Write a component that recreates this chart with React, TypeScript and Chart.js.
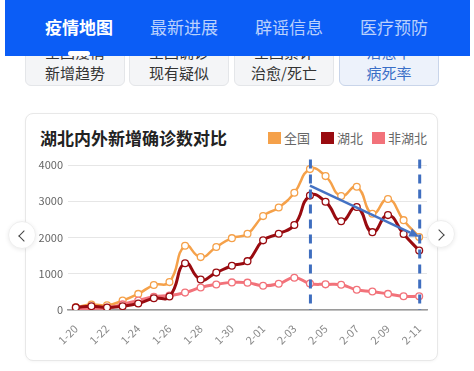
import React, { useEffect, useRef } from 'react';
import { Chart, registerables } from 'chart.js';

Chart.register(...registerables);

const dates = ['1-20','1-21','1-22','1-23','1-24','1-25','1-26','1-27','1-28','1-29','1-30','1-31','2-01','2-02','2-03','2-04','2-05','2-06','2-07','2-08','2-09','2-10','2-11'];
const national = [77,149,131,259,444,688,769,1771,1459,1737,1982,2102,2590,2829,3235,3887,3694,3143,3399,2656,3062,2478,2015];
const hubei = [72,105,69,105,180,323,371,1291,840,1032,1220,1347,1921,2103,2345,3156,2987,2447,2841,2147,2618,2097,1638];
const nonHubei = [5,44,62,154,264,365,398,480,619,705,762,755,669,726,890,731,707,696,558,509,444,381,377];
const yTicks = [0,1000,2000,3000,4000];
const markerDates = ['2-04','2-11'];
const trendFrom = { date: '2-04', value: 3430 };
const trendTo = { date: '2-11', value: 2020 };

const seriesNames = ['全国','湖北','非湖北'];
const seriesColors = ['#f5a14a','#990b10','#f2727a'];
const navTabs = ['疫情地图','最新进展','辟谣信息','医疗预防'];
const subTabsTop = ['全国疫情','全国确诊','全国累计','治愈率'];
const subTabsBottom = ['新增趋势','现有疑似','治愈/死亡','病死率'];
const chartTitle = '湖北内外新增确诊数对比';

const FONT = '"Noto Sans CJK SC", "Noto Sans", sans-serif';

const overlayPlugin = {
  id: 'overlay',
  afterDatasetsDraw(chart: any) {
    const { ctx, scales } = chart;
    const x = scales.x, y = scales.y;
    ctx.save();
    ctx.strokeStyle = '#3f6ebf';
    ctx.lineWidth = 3;
    ctx.setLineDash([9, 6]);
    markerDates.forEach((d) => {
      const px = x.getPixelForValue(dates.indexOf(d)) + 0.5;
      ctx.beginPath();
      ctx.moveTo(px, y.getPixelForValue(4150));
      ctx.lineTo(px, y.getPixelForValue(0));
      ctx.stroke();
    });
    ctx.setLineDash([]);
    const x1 = x.getPixelForValue(dates.indexOf(trendFrom.date));
    const y1 = y.getPixelForValue(trendFrom.value);
    const x2 = x.getPixelForValue(dates.indexOf(trendTo.date));
    const y2 = y.getPixelForValue(trendTo.value);
    const ang = Math.atan2(y2 - y1, x2 - x1);
    const headLen = 10, headW = 4.5;
    const bx = x2 - headLen * Math.cos(ang), by = y2 - headLen * Math.sin(ang);
    ctx.strokeStyle = '#4472c4';
    ctx.fillStyle = '#4472c4';
    ctx.lineWidth = 2.5;
    ctx.beginPath();
    ctx.moveTo(x1, y1);
    ctx.lineTo(bx, by);
    ctx.stroke();
    ctx.beginPath();
    ctx.moveTo(x2, y2);
    ctx.lineTo(bx + headW * Math.sin(ang), by - headW * Math.cos(ang));
    ctx.lineTo(bx - headW * Math.sin(ang), by + headW * Math.cos(ang));
    ctx.closePath();
    ctx.fill();
    ctx.restore();
  },
};

function ChartCanvas() {
  const ref = useRef<HTMLCanvasElement | null>(null);
  useEffect(() => {
    if (!ref.current) return;
    const ds = (label: string, data: number[], color: string, width: number, order: number) => ({
      label,
      data,
      borderColor: color,
      backgroundColor: color,
      borderWidth: width,
      tension: 0.5,
      pointRadius: 3.4,
      pointBackgroundColor: '#ffffff',
      pointBorderColor: color,
      pointBorderWidth: 1.3,
      order,
    });
    const chart = new Chart(ref.current, {
      type: 'line',
      data: {
        labels: dates,
        datasets: [
          ds(seriesNames[0], national, seriesColors[0], 2.5, 3),
          ds(seriesNames[2], nonHubei, seriesColors[2], 3, 2),
          ds(seriesNames[1], hubei, seriesColors[1], 3, 1),
        ],
      },
      options: {
        animation: false,
        responsive: false,
        maintainAspectRatio: false,
        layout: { padding: { top: 15, right: 11, left: 0, bottom: 0 } },
        plugins: { legend: { display: false }, tooltip: { enabled: false } },
        scales: {
          x: {
            offset: true,
            grid: { display: false },
            border: { display: true, color: '#9a9a9a', width: 1.5 },
            ticks: {
              autoSkip: false,
              maxRotation: 45,
              minRotation: 45,
              padding: 4,
              color: '#8a8a8a',
              font: { size: 11, family: FONT },
              callback: (_v: any, i: number) => (i % 2 === 0 ? dates[i] : ''),
            },
            afterFit: (s: any) => { s.height = 45; },
          },
          y: {
            min: yTicks[0],
            max: yTicks[yTicks.length - 1],
            afterBuildTicks: (s: any) => { s.ticks = yTicks.map((v) => ({ value: v })); },
            ticks: { color: '#666', font: { size: 11, family: FONT }, padding: 5, callback: (v: any) => String(v) },
            grid: { color: '#e6e6e6', drawTicks: false, lineWidth: 1 },
            border: { display: false },
            afterFit: (s: any) => { s.width = 43; },
          },
        },
      } as any,
      plugins: [overlayPlugin],
    });
    return () => chart.destroy();
  }, []);
  return (
    <canvas
      ref={ref}
      width={413}
      height={205}
      style={{ position: 'absolute', left: 25, top: 150, width: 413, height: 205, display: 'block' }}
    />
  );
}

export default function App() {
  const tabLefts = [45, 150, 255, 360];
  const btnLefts = [25, 129, 234, 339];
  return (
    <div style={{ position: 'absolute', left: 0, top: 0, width: 474, height: 371, background: '#fff', overflow: 'hidden', fontFamily: FONT }}>
      {btnLefts.map((l, i) => {
        const active = i === 3;
        return (
          <div key={i} style={{
            position: 'absolute', left: l, top: 30, width: 100, height: 56, boxSizing: 'border-box',
            background: active ? '#edf2fb' : '#f4f5f7',
            border: `1px solid ${active ? '#c9d5ea' : '#e4e6e9'}`, borderRadius: 6,
            color: active ? '#3a6fc7' : '#333', fontSize: 15, textAlign: 'center',
          }}>
            <div style={{ position: 'absolute', left: 0, right: 0, top: 10, lineHeight: '21px' }}>{subTabsTop[i]}</div>
            <div style={{ position: 'absolute', left: 0, right: 0, top: 31, lineHeight: '21px' }}>{subTabsBottom[i]}</div>
          </div>
        );
      })}
      <div style={{ position: 'absolute', left: 5, top: 0, width: 465, height: 56, background: '#0b5df6', zIndex: 2 }}>
        {navTabs.map((t, i) => (
          <div key={i} style={{
            position: 'absolute', left: tabLefts[i] - 5, top: 15, lineHeight: '24px', fontSize: 17,
            fontWeight: i === 0 ? 700 : 400, color: i === 0 ? '#fff' : 'rgba(255,255,255,0.72)', whiteSpace: 'nowrap',
          }}>{t}</div>
        ))}
      </div>
      <div style={{ position: 'absolute', left: 68, top: 51, width: 22, height: 5, borderRadius: 3, background: '#fff', zIndex: 3 }} />
      <div style={{
        position: 'absolute', left: 25, top: 113, width: 413, height: 248, boxSizing: 'border-box',
        border: '1px solid #e8e8e8', borderRadius: 8, background: '#fff', boxShadow: '0 1px 3px rgba(0,0,0,0.04)',
      }} />
      <div style={{ position: 'absolute', left: 40, top: 126, lineHeight: '24px', fontSize: 17, fontWeight: 700, color: '#222', whiteSpace: 'nowrap' }}>{chartTitle}</div>
      {[268, 321, 372].map((l, i) => (
        <React.Fragment key={i}>
          <div style={{ position: 'absolute', left: l, top: 132, width: 13, height: 12, background: seriesColors[i] }} />
          <div style={{ position: 'absolute', left: l + 16, top: 128, lineHeight: '20px', fontSize: 13, color: '#666', whiteSpace: 'nowrap' }}>{seriesNames[i]}</div>
        </React.Fragment>
      ))}
      <ChartCanvas />
      {[{ cx: 22, cy: 235, dir: 'l' }, { cx: 441, cy: 234, dir: 'r' }].map((a, i) => (
        <div key={i} style={{
          position: 'absolute', left: a.cx - 14, top: a.cy - 14, width: 28, height: 28, borderRadius: '50%',
          background: '#fff', border: '1px solid #eeeeee', boxShadow: '0 1px 4px rgba(0,0,0,0.08)', boxSizing: 'border-box', zIndex: 4,
        }}>
          <div style={{
            position: 'absolute', width: 7, height: 7, top: 9.5,
            left: a.dir === 'l' ? 11 : 7,
            borderLeft: a.dir === 'l' ? '1.6px solid #444' : 'none',
            borderBottom: a.dir === 'l' ? '1.6px solid #444' : 'none',
            borderRight: a.dir === 'r' ? '1.6px solid #444' : 'none',
            borderTop: a.dir === 'r' ? '1.6px solid #444' : 'none',
            transform: 'rotate(45deg)',
          }} />
        </div>
      ))}
    </div>
  );
}
